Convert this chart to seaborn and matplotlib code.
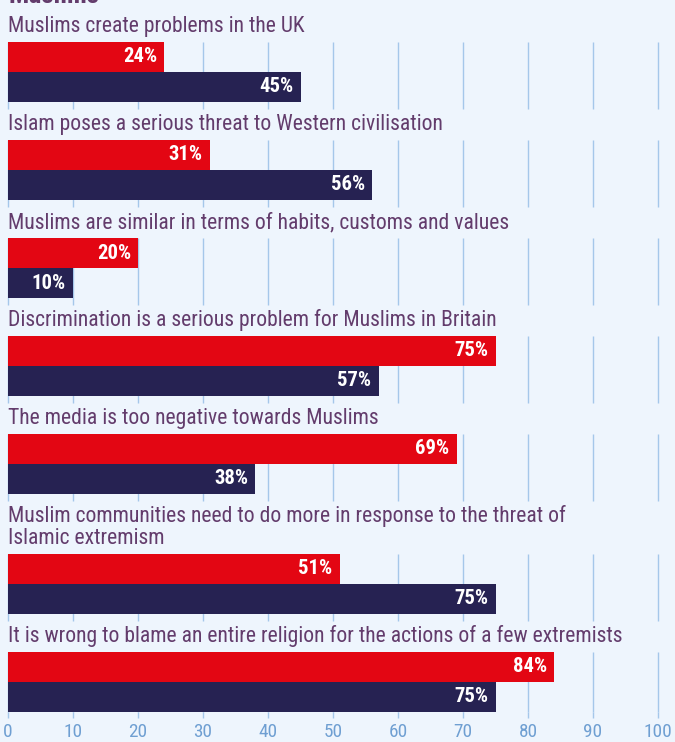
import os
import matplotlib
matplotlib.use("Agg")
import matplotlib.pyplot as plt
import pandas as pd
import seaborn as sns
from matplotlib import font_manager
from matplotlib.font_manager import FontProperties

# Survey statements and the share agreeing, per group
statements = [
    "Muslims create problems in the UK",
    "Islam poses a serious threat to Western civilisation",
    "Muslims are similar in terms of habits, customs and values",
    "Discrimination is a serious problem for Muslims in Britain",
    "The media is too negative towards Muslims",
    "Muslim communities need to do more in response to the threat of\nIslamic extremism",
    "It is wrong to blame an entire religion for the actions of a few extremists",
]
muslims = [24, 31, 20, 75, 69, 51, 84]
general_public = [45, 56, 10, 57, 38, 75, 75]
series_names = ["Muslims", "General public"]
x_ticks = list(range(0, 101, 10))
section_title = "Muslims"

BG = "#eef5fd"
RED = "#e30613"
NAVY = "#262252"
PURPLE = "#633c6c"
GRID = "#a5c7ea"
TICK = "#6f9fd2"

sns.set_theme(style="white")
plt.rcParams["font.family"] = ["DejaVu Sans"]

# Prefer a narrow / condensed sans face when one is installed
NARROW_KEYS = ["liberationsansnarrow", "robotocondensed", "notosanscondensed",
               "opensanscondensed", "dejavusanscondensed", "arimonarrow"]
OTHER_WEIGHTS = ["light", "thin", "medium", "black", "semibold", "extrabold",
                 "italic", "oblique", "extralight", "semicondensed", "extracondensed"]


def pick_font(bold):
    files = [f.fname for f in font_manager.fontManager.ttflist]
    for key in NARROW_KEYS:
        for path in files:
            base = os.path.basename(path).lower()
            for ch in " -_":
                base = base.replace(ch, "")
            if key not in base:
                continue
            rest = base.replace(key, "")
            if any(w in rest for w in OTHER_WEIGHTS):
                continue
            if ("bold" in rest) != bold:
                continue
            return path
    return None


regular_path = pick_font(False)
bold_path = pick_font(True) or regular_path


def make_fp(bold, size):
    path = bold_path if bold else regular_path
    if path:
        fp = FontProperties(fname=path, size=size)
        if bold and path == regular_path:
            fp.set_weight("bold")
        return fp
    return FontProperties(family="DejaVu Sans",
                          weight="bold" if bold else "normal", size=size)


W, H = 675, 742
fig = plt.figure(figsize=(W / 100, H / 100), dpi=100, facecolor=BG)
renderer = fig.canvas.get_renderer()


def fitted(sample, bold, target_px, base=20.0):
    t = fig.text(0, 0, sample, fontproperties=make_fp(bold, base))
    w = t.get_window_extent(renderer).width
    t.remove()
    return make_fp(bold, base * target_px / w)


fp_label = fitted("Muslims create problems in the UK", False, 298)
fp_value = fitted("84%", True, 34)
fp_tick = fitted("10", False, 19)
fp_title = fitted(section_title, True, 91)


def fx(x):
    return x / W


def fy(y):
    return 1 - y / H


LEFT, WIDTH = 8, 650
fig.text(fx(LEFT), fy(3), section_title, fontproperties=fp_title,
         color=PURPLE, ha="left", va="baseline")

top = 42
n = len(statements)
for i, (label, a, b) in enumerate(zip(statements, muslims, general_public)):
    lines = label.split("\n")
    if i > 0:
        top += 98 + 22 * (len(lines) - 1)
    last = i == n - 1
    h = 60 if last else 67

    ax = fig.add_axes([fx(LEFT), fy(top + h), WIDTH / W, h / H])
    df = pd.DataFrame({"series": series_names, "value": [a, b]})
    sns.barplot(data=df, x="value", y="series", hue="series",
                order=series_names, hue_order=series_names,
                palette=[RED, NAVY], saturation=1, width=1.0,
                linewidth=0, legend=False, ax=ax, zorder=2)
    ax.set_xlim(0, 100)
    ax.set_ylim(1.5 + (h - 60) / 30, -0.5)
    ax.set_facecolor("none")
    for sp in ax.spines.values():
        sp.set_visible(False)
    ax.grid(False)
    ax.set_xlabel("")
    ax.set_ylabel("")
    ax.set_yticks([])
    ax.set_xticks(x_ticks)
    ax.vlines(x_ticks, 0, 1, transform=ax.get_xaxis_transform(),
              colors=GRID, linewidth=1.0, zorder=0.5, clip_on=False)

    if last:
        ax.tick_params(axis="x", bottom=True, length=4.3, width=1.0,
                       color=GRID, labelcolor=TICK, pad=3.6)
        for tl in ax.get_xticklabels():
            tl.set_fontproperties(fp_tick)
    else:
        ax.tick_params(axis="x", bottom=False, labelbottom=False)

    for j, v in enumerate([a, b]):
        ax.annotate(f"{v}%", xy=(v, j), xytext=(-7, 0),
                    textcoords="offset pixels", ha="right", va="center",
                    color="white", fontproperties=fp_value, zorder=3)

    for k, line in enumerate(lines):
        base = top - 10 - 22 * (len(lines) - 1 - k)
        fig.text(fx(LEFT), fy(base), line, fontproperties=fp_label,
                 color=PURPLE, ha="left", va="baseline")

fig.savefig("out.png", dpi=100, facecolor=BG)
